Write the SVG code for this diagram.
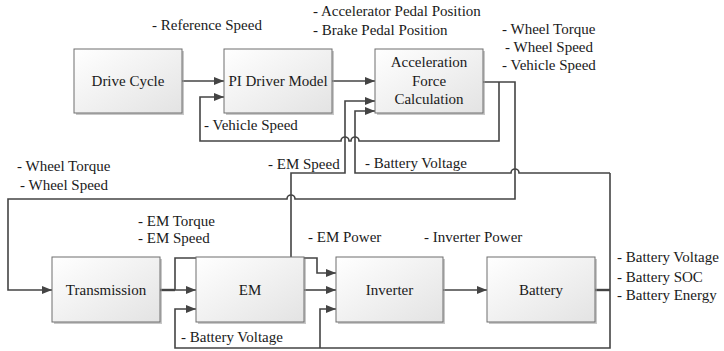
<svg xmlns="http://www.w3.org/2000/svg" width="724" height="351" viewBox="0 0 724 351">
<style>
text{font-family:"Liberation Serif","Times New Roman",serif;font-size:15px;fill:#1a1a1a}
.c{text-anchor:middle}
.box{fill:url(#g);stroke:#6e6e6e;stroke-width:1}
.sh{fill:#9a9a9a;opacity:0.55}
.w{fill:none;stroke:#444;stroke-width:1.6}
.a{fill:none;stroke:#444;stroke-width:1.6;marker-end:url(#ah)}
</style>
<defs>
<linearGradient id="g" x1="0" y1="0" x2="1" y2="1">
<stop offset="0" stop-color="#ffffff"/>
<stop offset="1" stop-color="#e3e3e3"/>
</linearGradient>
<marker id="ah" markerUnits="userSpaceOnUse" markerWidth="10" markerHeight="8" refX="10" refY="4" orient="auto">
<path d="M0,0 L10,4 L0,8 z" fill="#444"/>
</marker>
</defs>
<rect width="724" height="351" fill="#ffffff"/>

<g id="connectors">
<path class="a" d="M182,81 H224"/>
<path class="a" d="M332,81 H375"/>
<path class="a" d="M483,82 H515 V199 H295 A4,4 0 0 0 287,199 H8 V290 H52"/>
<path class="a" d="M499,82 V141 H359 A4,4 0 0 0 351,141 H349 A4,4 0 0 0 341,141 H200 V97 H224"/>
<path class="a" d="M160,290 H196"/>
<path class="w" d="M160,290 H175" style="stroke-width:2.4"/>
<path class="a" d="M175,290 V258 H317 V273 H336"/>
<path class="a" d="M291,258 V173 H345 V101 H375"/>
<path class="a" d="M304,290 H336"/>
<path class="a" d="M443,290 H487"/>
<path class="w" d="M595,290 H610" style="stroke-width:2.4"/>
<path class="a" d="M610,173 V348 H175 V309 H196"/>
<path class="a" d="M320,348 V309 H336"/>
<path class="a" d="M610,173 H519 A4,4 0 0 0 511,173 H355 V111 H375"/>
</g>

<g font-family="'Liberation Serif', 'Times New Roman', serif">
<g id="drive-cycle">
<rect class="sh" x="76" y="51" width="108" height="64"/>
<rect class="box" x="74" y="49" width="108" height="64"/>
<text class="c" x="128" y="86">Drive Cycle</text>
</g>
<g id="pi-driver">
<rect class="sh" x="226" y="51" width="108" height="64"/>
<rect class="box" x="224" y="49" width="108" height="64"/>
<text class="c" x="278" y="86">PI Driver Model</text>
</g>
<g id="accel-force">
<rect class="sh" x="377" y="51" width="108" height="64"/>
<rect class="box" x="375" y="49" width="108" height="64"/>
<text class="c" x="429" y="67">Acceleration</text>
<text class="c" x="429" y="86">Force</text>
<text class="c" x="429" y="104">Calculation</text>
</g>
<g id="transmission">
<rect class="sh" x="54" y="259" width="108" height="65"/>
<rect class="box" x="52" y="257" width="108" height="65"/>
<text class="c" x="106" y="295">Transmission</text>
</g>
<g id="em">
<rect class="sh" x="198" y="259" width="108" height="65"/>
<rect class="box" x="196" y="257" width="108" height="65"/>
<text class="c" x="250" y="295">EM</text>
</g>
<g id="inverter">
<rect class="sh" x="338" y="259" width="107" height="65"/>
<rect class="box" x="336" y="257" width="107" height="65"/>
<text class="c" x="389.5" y="295">Inverter</text>
</g>
<g id="battery">
<rect class="sh" x="489" y="259" width="108" height="65"/>
<rect class="box" x="487" y="257" width="108" height="65"/>
<text class="c" x="541" y="295">Battery</text>
</g>

<g id="labels">
<text x="152" y="30">- Reference Speed</text>
<text x="313" y="16">- Accelerator Pedal Position</text>
<text x="313" y="35">- Brake Pedal Position</text>
<text x="502" y="34">- Wheel Torque</text>
<text x="505" y="52">- Wheel Speed</text>
<text x="502" y="70">- Vehicle Speed</text>
<text x="204" y="130">- Vehicle Speed</text>
<text x="268" y="169">- EM Speed</text>
<text x="365" y="168">- Battery Voltage</text>
<text x="17" y="171">- Wheel Torque</text>
<text x="20" y="190">- Wheel Speed</text>
<text x="138" y="226">- EM Torque</text>
<text x="138" y="243">- EM Speed</text>
<text x="308" y="242">- EM Power</text>
<text x="424" y="242">- Inverter Power</text>
<text x="617" y="262">- Battery Voltage</text>
<text x="617" y="282">- Battery SOC</text>
<text x="617" y="300">- Battery Energy</text>
<text x="181" y="342">- Battery Voltage</text>
</g>
</g>
</svg>
